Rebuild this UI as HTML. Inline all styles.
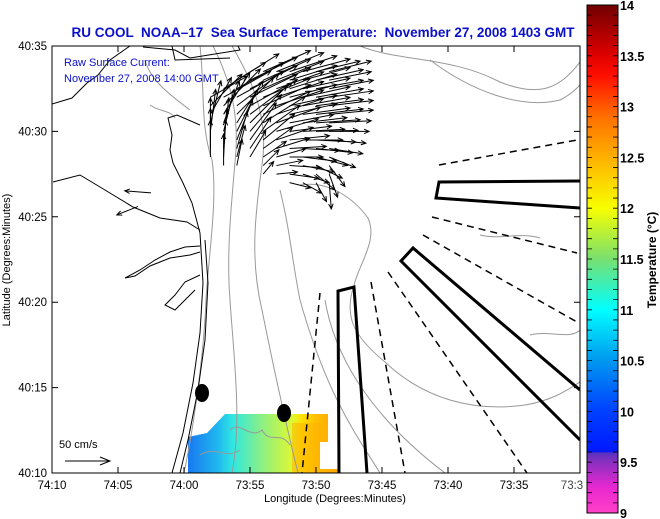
<!DOCTYPE html>
<html><head><meta charset="utf-8"><style>
html,body{margin:0;padding:0;background:#fff;}
svg{display:block;font-family:"Liberation Sans",sans-serif;}
</style></head><body>
<svg id="chart" width="660" height="519" viewBox="0 0 660 519">
<defs>
<linearGradient id="cbar" x1="0" y1="1" x2="0" y2="0">
<stop offset="0" stop-color="#ff40c8"/><stop offset="0.05" stop-color="#e828d0"/>
<stop offset="0.1" stop-color="#8a30c0"/><stop offset="0.119" stop-color="#5530c0"/>
<stop offset="0.12" stop-color="#0018ff"/><stop offset="0.2" stop-color="#0040ff"/>
<stop offset="0.3" stop-color="#0098f0"/><stop offset="0.4" stop-color="#00ffff"/>
<stop offset="0.5" stop-color="#78e070"/><stop offset="0.6" stop-color="#f8ff00"/>
<stop offset="0.7" stop-color="#ffb000"/><stop offset="0.78" stop-color="#ff7000"/>
<stop offset="0.86" stop-color="#ff1000"/><stop offset="0.9" stop-color="#e00000"/>
<stop offset="1" stop-color="#700000"/>
</linearGradient>
<linearGradient id="sst" x1="0" y1="0" x2="1" y2="0">
<stop offset="0" stop-color="#1878f0"/><stop offset="0.2" stop-color="#20b8f0"/>
<stop offset="0.3" stop-color="#30e8e0"/><stop offset="0.5" stop-color="#90f080"/>
<stop offset="0.7" stop-color="#e0f830"/><stop offset="0.76" stop-color="#ffe000"/>
<stop offset="0.85" stop-color="#ffc000"/><stop offset="1" stop-color="#ffa000"/>
</linearGradient>
<clipPath id="plotclip"><rect x="52" y="46" width="528" height="427"/></clipPath>
</defs>

<text x="323" y="37" text-anchor="middle" font-size="13.5" font-weight="bold" fill="#0a10c8" style="white-space:pre" xml:space="preserve">RU COOL  NOAA–17  Sea Surface Temperature:  November 27, 2008 1403 GMT</text>

<g clip-path="url(#plotclip)">
<path d="M188,437 L207,433 L225,414 L328,414 L328,442 L320,442 L320,469 L338,469 L338,473 L188,473 Z" fill="url(#sst)"/>
<path d="M292,423 L328,423 L328,442 L320,442 L320,469 L338,469 L338,473 L292,473 Z" fill="#ffb000" opacity="0.55"/>
<g fill="none" stroke="#999" stroke-width="1">
<path d="M200,46 C205,90 200,125 212,160 C218,200 208,260 206,300 C204,350 195,420 184,473"/>
<path d="M213,46 C230,80 238,110 236,150 C232,200 226,250 230,300 C234,360 242,420 232,473"/>
<path d="M232,46 C258,90 268,125 262,165 C255,215 250,260 262,310 C272,360 285,420 298,473"/>
<path d="M300,185 C330,180 355,200 368,218 C378,240 360,262 354,285 C344,315 352,335 385,362 C425,400 475,412 525,405 C555,400 570,388 580,382"/>
<path d="M325,300 C335,360 375,420 445,473"/>
<path d="M300,300 C328,400 360,440 380,473"/>
<path d="M280,190 C290,230 292,260 300,300"/>
<path d="M360,46 C400,62 450,56 500,82 C540,98 560,88 580,62"/>
<path d="M430,60 C470,90 520,110 560,100 C570,95 575,90 580,85"/>
<path d="M145,60 C150,80 170,95 190,110 M150,105 C160,112 170,110 175,118"/>
<path d="M480,235 C500,240 520,232 540,238 M530,335 C550,330 570,340 580,330"/>
<path d="M230,430 C240,420 250,440 262,430 C270,445 280,430 290,445 M200,455 C215,445 225,460 240,450"/>
</g>
<g fill="none" stroke="#000" stroke-width="1">
<path d="M52,104 L72,98 L87,83 L98,75 L110,60 L127,48 L130,46"/>
<path d="M143,47 L175,50 L190,58 L240,50 L238,46"/>
<path d="M172,46 L175,60 L230,58"/>
<path d="M200,125 L177,115 L168,118 L172,135 L170,150 L173,163 L183,183 L192,203 L200,233 L203,283 L200,333 L193,383 L183,433 L172,473"/>
<path d="M205,240 L208,283 L205,340 L198,390 L188,440 L180,473"/>
<path d="M53,182 L80,175 L100,187 L133,207 L160,218 L187,222 L200,230"/>
<path d="M200,246 L185,247 L170,252 L155,260 L140,270 L125,278 L135,276 L150,266 L170,258 L190,255 L200,252"/>
<path d="M200,275 L185,282 L175,295 L165,305 L175,310 L185,300 L195,290"/>
</g>
<g fill="none" stroke="#000" stroke-width="1.5" stroke-dasharray="7,5">
<path d="M320,293 L302,473"/><path d="M371,282 L405,473"/><path d="M388,272 L527,473"/>
<path d="M423,235 L577,322"/><path d="M432,217 L577,253"/><path d="M439,165 L577,140"/>
</g>
<g fill="none" stroke="#000" stroke-width="3">
<path d="M339,473 L338,291 L354,287 L367,473"/>
<path d="M580,181 L439,182 L436,198 L580,208"/>
<path d="M580,390 L413,248 L401,261 L580,440"/>
</g>
<ellipse cx="202" cy="393" rx="7" ry="9" fill="#000"/>
<ellipse cx="284" cy="413" rx="7" ry="9" fill="#000"/>
<g id="arrows"></g>
</g>

<rect x="52" y="46" width="528" height="427" fill="none" stroke="#000" stroke-width="1"/>
<g id="axes" font-size="11.5" fill="#000"></g>

<text x="64" y="66" font-size="11" fill="#0a10c8">Raw Surface Current:</text>
<text x="64" y="82" font-size="11" fill="#0a10c8">November 27, 2008 14:00 GMT</text>
<text x="59" y="448" font-size="11">50 cm/s</text>
<g stroke="#000" stroke-width="1" fill="none"><path d="M65,461 L110,461 M100,457 L110,461 L100,465"/></g>

<text transform="translate(10,260) rotate(-90)" text-anchor="middle" font-size="11">Latitude (Degrees:Minutes)</text>
<text x="335" y="502" text-anchor="middle" font-size="11">Longitude (Degrees:Minutes)</text>

<rect x="587" y="5" width="31" height="508" fill="url(#cbar)" stroke="#000" stroke-width="1"/>
<g id="cbticks"></g>
<text transform="translate(656,260) rotate(-90)" text-anchor="middle" font-size="12" font-weight="bold">Temperature (°C)</text>
</svg>
<script>
const lonTicks = [70, 65, 60, 55, 50, 45, 40, 35, 30];
const lonTickLabels = ["74:10","74:05","74:00","73:55","73:50","73:45","73:40","73:35","73:3"];
const latTicks = [35, 30, 25, 20, 15, 10];
const latTickLabels = ["40:35","40:30","40:25","40:20","40:15","40:10"];
const cbValues = [9, 9.5, 10, 10.5, 11, 11.5, 12, 12.5, 13, 13.5, 14];
const cbLabels = ["9","9.5","10","10.5","11","11.5","12","12.5","13","13.5","14"];
const vecLat = [33.5,33.5,33.5,33.5,33.5,33.5,
 33,33,33,33,33,33,33,33,
 32.5,32.5,32.5,32.5,32.5,32.5,32.5,32.5,32.5,
 32,32,32,32,32,32,32,32,32,32,
 31.5,31.5,31.5,31.5,31.5,31.5,31.5,31.5,31.5,31.5,
 31,31,31,31,31,31,31,31,31,31,
 30.5,30.5,30.5,30.5,30.5,30.5,30.5,30.5,30.5,30.5,
 30,30,30,30,30,30,30,30,30,30,
 29.5,29.5,29.5,29.5,29.5,29.5,29.5,29.5,29.5,29.5,
 29,29,29,29,29,29,29,29,29,29,
 28.5,28.5,28.5,28.5,28.5,28.5,28.5,28.5,28.5,28.5,
 28,28,28,28,28,28,28,28,
 27.5,27.5,27.5,27.5,27.5,27.5,
 27,27,27,27, 26.4,25.6];
const vecLon = [54,53,52,51,50,49,
 56,55,54,53,52,51,50,49,
 57,56,55,54,53,52,51,50,49,
 58,57,56,55,54,53,52,51,50,49,
 58,57,56,55,54,53,52,51,50,49,
 58,57,56,55,54,53,52,51,50,49,
 58,57,56,55,54,53,52,51,50,49,
 58,57,56,55,54,53,52,51,50,49,
 58,57,56,55,54,53,52,51,50,49,
 58,57,56,55,54,53,52,51,50,49,
 58,57,56,55,54,53,52,51,50,49,
 57,56,54,53,52,51,50,49,
 54,53,52,51,50,49,
 52,51,50,49, 62.5,63.5];
const vecU = [45,45,45,45,42,40,
 40,45,45,45,45,45,45,40,
 40,45,45,45,45,45,45,45,42,
 35,45,45,45,45,45,45,45,45,42,
 30,35,40,45,45,45,45,45,45,42,
 20,25,35,40,45,45,45,45,45,42,
 10,15,25,35,40,42,42,42,42,40,
 5,10,20,30,35,40,40,40,40,38,
 0,5,15,25,30,35,38,38,38,35,
 0,3,10,20,28,32,35,35,35,32,
 0,2,8,15,22,28,32,32,30,25,
 0,5,15,25,30,30,25,15,
 10,20,28,25,18,8,
 20,18,10,2, -25,-20];
const vecV = [20,18,15,12,10,10,
 25,22,20,18,14,12,10,8,
 25,25,22,20,16,14,10,8,8,
 20,25,25,22,18,15,12,10,8,6,
 30,35,30,25,20,15,10,8,6,5,
 35,40,35,30,22,15,10,6,5,4,
 40,40,40,35,25,15,8,5,3,2,
 40,40,40,35,25,12,5,2,1,0,
 40,40,38,35,25,12,4,0,-2,-3,
 38,38,35,30,20,10,2,-2,-4,-5,
 35,35,30,25,15,8,0,-4,-8,-10,
 30,25,15,5,-2,-6,-12,-20,
 12,2,-4,-8,-15,-22,
 -5,-10,-18,-25, 2,-8];

const NS='http://www.w3.org/2000/svg';
const xOf = m => 52 + (70 - m) * 13.2;
const yOf = m => 473 - (m - 10) * 17.08;
const pxPerCm = 1.05;

const ag = document.getElementById('arrows');
for (let i = 0; i < vecLat.length; i++) {
  const x0 = xOf(vecLon[i]), y0 = yOf(vecLat[i]);
  const dx = vecU[i] * pxPerCm, dy = -vecV[i] * pxPerCm;
  const x1 = x0 + dx, y1 = y0 + dy;
  const L = Math.hypot(dx, dy) || 1, ux = dx / L, uy = dy / L, h = 5;
  const p = document.createElementNS(NS, 'path');
  p.setAttribute('d', `M${x0},${y0} L${x1},${y1} M${x1 - h*ux + h*0.45*uy},${y1 - h*uy - h*0.45*ux} L${x1},${y1} L${x1 - h*ux - h*0.45*uy},${y1 - h*uy + h*0.45*ux}`);
  p.setAttribute('stroke', '#000'); p.setAttribute('fill', 'none'); p.setAttribute('stroke-width', '1');
  
  
  ag.appendChild(p);
}

const ax = document.getElementById('axes');
function add(parent, tag, attrs, txt) {
  const e = document.createElementNS(NS, tag);
  for (const k in attrs) e.setAttribute(k, attrs[k]);
  if (txt !== undefined) e.textContent = txt;
  parent.appendChild(e); return e;
}
lonTicks.forEach((m, i) => {
  const x = xOf(m);
  const t = add(ax, 'path', {d:`M${x},473 L${x},467 M${x},46 L${x},52`, stroke:'#000'});
  
  
  const lb = add(ax, 'text', {x: i === lonTicks.length - 1 ? x - 8 : x, y: 489, 'text-anchor':'middle', fill: i === lonTicks.length - 1 ? '#444' : '#000'}, lonTickLabels[i]);
  
  
});
latTicks.forEach((m, i) => {
  const y = yOf(m);
  const t = add(ax, 'path', {d:`M52,${y} L58,${y} M580,${y} L574,${y}`, stroke:'#000'});
  
  
  const lb = add(ax, 'text', {x: 47, y: y + 4, 'text-anchor':'end'}, latTickLabels[i]);
  
  
});

const cb = document.getElementById('cbticks');
const cbY = v => 513 - (v - 9) / 5 * 508;
for (let k = 0; k <= 50; k++) {
  const v = 9 + k * 0.1, y = cbY(v);
  const t = add(cb, 'path', {d:`M587,${y} L592,${y} M618,${y} L613,${y}`, stroke:'#000', 'stroke-width':'0.8'});
  
  
}
cbValues.forEach((v, i) => {
  const y = cbY(v);
  const lb = add(cb, 'text', {x: 620, y: y + 5, 'font-size':'12.5', 'font-weight':'bold'}, cbLabels[i]);
  
  
});
</script>
</body></html>
